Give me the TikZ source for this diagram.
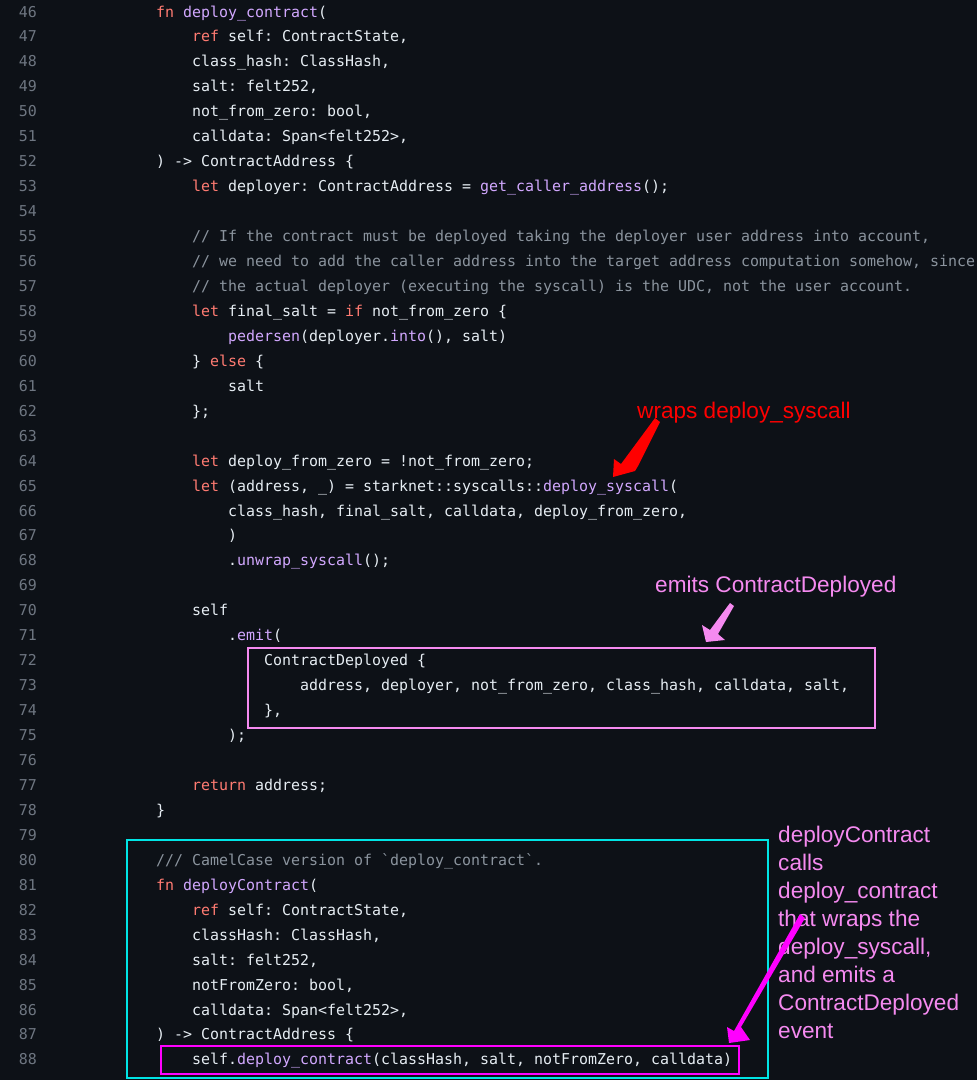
\documentclass[tikz,border=0pt]{standalone}
\usepackage{fontspec}
\setmainfont{Liberation Sans}
\newfontfamily\codefont{DejaVu Sans Mono}
\definecolor{bgdark}{HTML}{0D1117}
\definecolor{txt}{HTML}{E6EDF3}
\definecolor{kwred}{HTML}{FF7B72}
\definecolor{fnpurple}{HTML}{D2A8FF}
\definecolor{cmgray}{HTML}{8B949E}
\definecolor{lngray}{HTML}{6E7681}
\definecolor{noteviolet}{HTML}{F58AF0}
\definecolor{notemag}{HTML}{FF00FF}
\definecolor{boxcyan}{HTML}{00E5E5}
\newcommand{\kw}[1]{\textcolor{kwred}{#1}}
\newcommand{\fnm}[1]{\textcolor{fnpurple}{#1}}
\newcommand{\cm}[1]{\textcolor{cmgray}{#1}}
\frenchspacing
\begin{document}
\begin{tikzpicture}[x=1pt,y=-1pt]
\tikzstyle{codeline}=[anchor=base west, inner sep=0pt, text=txt, font=\codefont\fontsize{14.95}{18}\selectfont];
\tikzstyle{lineno}=[anchor=base east, inner sep=0pt, text=lngray, font=\codefont\fontsize{14.95}{18}\selectfont];
\tikzstyle{note}=[anchor=base west, inner sep=0pt, font=\fontsize{22.6}{28}\selectfont];
\tikzstyle{cadre}=[line width=2.6pt];
\fill[bgdark] (0,0) rectangle (977,1080);
\useasboundingbox (0,0) rectangle (977,1080);
% line numbers
\foreach \n in {46,...,88} {
  \node[lineno] (ln\n) at (37, {17+(\n-46)*24.95}) {\n};
}
% code
\newcommand{\cl}[3]{\node[codeline] (c#1) at ({156+9*#2}, {17+(#1-46)*24.95}) {#3};}
\cl{46}{0}{\kw{fn} \fnm{deploy\_contract}(}
\cl{47}{4}{\kw{ref} self: ContractState,}
\cl{48}{4}{class\_hash: ClassHash,}
\cl{49}{4}{salt: felt252,}
\cl{50}{4}{not\_from\_zero: bool,}
\cl{51}{4}{calldata: Span<felt252>,}
\cl{52}{0}{) -> ContractAddress \{}
\cl{53}{4}{\kw{let} deployer: ContractAddress = \fnm{get\_caller\_address}();}
\cl{55}{4}{\cm{// If the contract must be deployed taking the deployer user address into account,}}
\cl{56}{4}{\cm{// we need to add the caller address into the target address computation somehow, since}}
\cl{57}{4}{\cm{// the actual deployer (executing the syscall) is the UDC, not the user account.}}
\cl{58}{4}{\kw{let} final\_salt = \kw{if} not\_from\_zero \{}
\cl{59}{8}{\fnm{pedersen}(deployer.\fnm{into}(), salt)}
\cl{60}{4}{\} \kw{else} \{}
\cl{61}{8}{salt}
\cl{62}{4}{\};}
\cl{64}{4}{\kw{let} deploy\_from\_zero = !not\_from\_zero;}
\cl{65}{4}{\kw{let} (address, \_) = starknet::syscalls::\fnm{deploy\_syscall}(}
\cl{66}{8}{class\_hash, final\_salt, calldata, deploy\_from\_zero,}
\cl{67}{8}{)}
\cl{68}{8}{.\fnm{unwrap\_syscall}();}
\cl{70}{4}{self}
\cl{71}{8}{.\fnm{emit}(}
\cl{72}{12}{ContractDeployed \{}
\cl{73}{16}{address, deployer, not\_from\_zero, class\_hash, calldata, salt,}
\cl{74}{12}{\},}
\cl{75}{8}{);}
\cl{77}{4}{\kw{return} address;}
\cl{78}{0}{\}}
\cl{80}{0}{\cm{/// CamelCase version of \textasciigrave deploy\_contract\textasciigrave.}}
\cl{81}{0}{\kw{fn} \fnm{deployContract}(}
\cl{82}{4}{\kw{ref} self: ContractState,}
\cl{83}{4}{classHash: ClassHash,}
\cl{84}{4}{salt: felt252,}
\cl{85}{4}{notFromZero: bool,}
\cl{86}{4}{calldata: Span<felt252>,}
\cl{87}{0}{) -> ContractAddress \{}
\cl{88}{4}{self.\fnm{deploy\_contract}(classHash, salt, notFromZero, calldata)}

% boxes
\draw[cadre, noteviolet] (248,648) rectangle (875,728);
\draw[cadre, boxcyan] (127,840) rectangle (768,1078);
\draw[cadre, notemag] (161,1046) rectangle (739,1074);

% annotations
\node[note, text=red] (wraps) at (637,418) {wraps deploy\_syscall};
\fill[red] (655,418) -- (660,422) -- (638,466) -- (635,471) -- (613,477) -- (614,459) -- (621,464) -- cycle;
\node[note, text=noteviolet] (emits) at (655,592) {emits ContractDeployed};
\fill[noteviolet] (730,603) -- (734,606) -- (718,634) -- (725,640) -- (706,642) -- (702,625) -- (710,630) -- cycle;
\node[note, text=noteviolet, align=left, anchor=north west] (calls) at (778,826)
  {\baselineskip=28pt deployContract\\calls\\deploy\_contract\\that wraps the\\deploy\_syscall,\\and emits a\\ContractDeployed\\event};
\fill[notemag] (800,914) -- (805,918) -- (741,1027) -- (750,1040) -- (729,1043) -- (727,1027) -- (734,1031) -- cycle;
\end{tikzpicture}
\end{document}
